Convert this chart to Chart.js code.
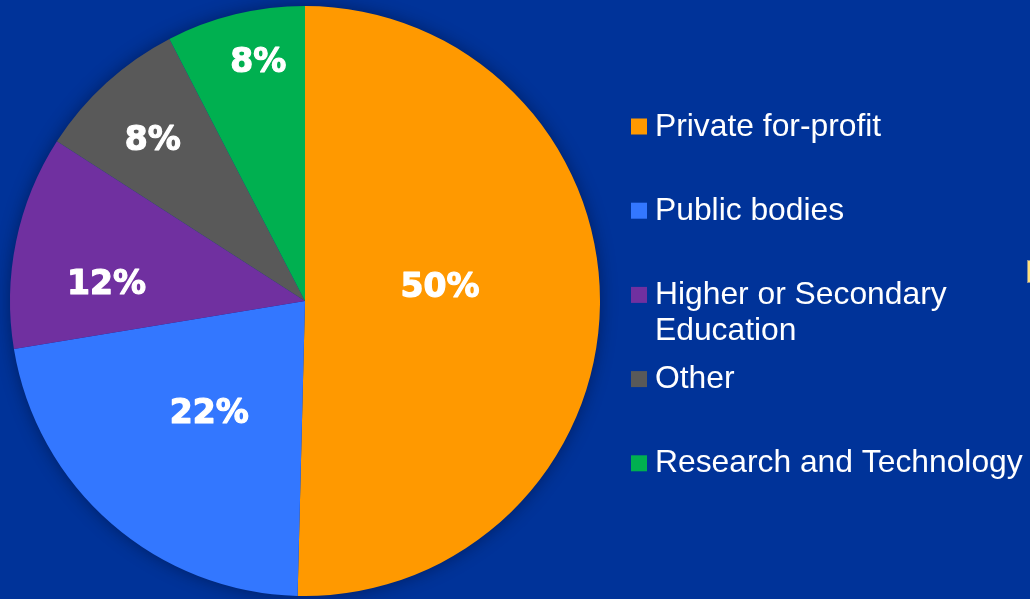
<!DOCTYPE html>
<html>
<head>
<meta charset="utf-8">
<script src="https://cdn.jsdelivr.net/npm/chart.js@4.4.0/dist/chart.umd.min.js"></script>
<style>
  html, body { margin: 0; padding: 0; background: #003399; overflow: hidden; }
  .wrap { position: relative; width: 1030px; height: 599px; }
  #pie { position: absolute; left: 0; top: 0; }
  .tab { position: absolute; left: 1027px; top: 260px; width: 6px; height: 23px;
         background: #ffe07a; border: 1px solid #8a8f9a; box-sizing: border-box; }
</style>
</head>
<body>
<div class="wrap">
  <canvas id="pie" width="1030" height="599"></canvas>
  <div class="tab"></div>
</div>
<script>
// data
const categories = [
  ['Private for-profit'],
  ['Public bodies'],
  ['Higher or Secondary', 'Education'],
  ['Other'],
  ['Research and Technology']
];
const shares = [50.4, 22.0, 11.7, 8.3, 7.6];
const shareLabels = ['50%', '22%', '12%', '8%', '8%'];
const colors = ['#ff9900', '#3377ff', '#7030a0', '#595959', '#00b050'];

// label placement: fraction of radius, angle nudge (deg)
const labelSpots = [[0.46, -6.5], [0.5, -0.6], [0.675, -7], [0.75, -1.2], [0.825, 2.6]];

// shadow under the whole pie
const pieShadow = {
  id: 'pieShadow',
  beforeDatasetsDraw(chart) {
    const arc = chart.getDatasetMeta(0).data[0];
    if (!arc) return;
    const ctx = chart.ctx;
    ctx.save();
    ctx.shadowColor = 'rgba(0, 0, 20, 0.45)';
    ctx.shadowBlur = 18;
    ctx.fillStyle = '#003399';
    ctx.beginPath();
    ctx.arc(arc.x, arc.y, arc.outerRadius - 1, 0, Math.PI * 2);
    ctx.fill();
    ctx.restore();
  }
};

// percent labels inside slices
const sliceLabels = {
  id: 'sliceLabels',
  afterDatasetsDraw(chart) {
    const ctx = chart.ctx;
    ctx.save();
    ctx.font = 'bold 33px "DejaVu Sans"';
    ctx.fillStyle = '#ffffff';
    ctx.strokeStyle = '#ffffff';
    ctx.lineWidth = 1.2;
    ctx.lineJoin = 'round';
    ctx.textAlign = 'center';
    ctx.textBaseline = 'middle';
    chart.getDatasetMeta(0).data.forEach((arc, i) => {
      const spot = labelSpots[i];
      const mid = (arc.startAngle + arc.endAngle) / 2 + spot[1] * Math.PI / 180;
      const r = arc.outerRadius * spot[0];
      const x = arc.x + Math.cos(mid) * r;
      const y = arc.y + Math.sin(mid) * r + 1;
      ctx.strokeText(shareLabels[i], x, y);
      ctx.fillText(shareLabels[i], x, y);
    });
    ctx.restore();
  }
};

// legend on the right, drawn by hand
const sideLegend = {
  id: 'sideLegend',
  afterDraw(chart) {
    const ctx = chart.ctx;
    ctx.save();
    ctx.font = '31.8px "Liberation Sans", Arial, sans-serif';
    ctx.textBaseline = 'alphabetic';
    ctx.textAlign = 'left';
    categories.forEach((lines, i) => {
      const cy = 126.5 + i * 84.2;
      ctx.fillStyle = colors[i];
      ctx.fillRect(631, cy - 8, 16, 16);
      ctx.fillStyle = '#ffffff';
      lines.forEach((t, j) => {
        ctx.fillText(t, 655, cy + 9 + j * 36.5);
      });
    });
    ctx.restore();
  }
};

const config = {
  type: 'pie',
  data: {
    labels: categories.map(c => c.join(' ')),
    datasets: [{
      data: shares,
      backgroundColor: colors,
      borderWidth: 0
    }]
  },
  options: {
    responsive: false,
    animation: false,
    layout: { padding: { left: 10, right: 430, top: 6, bottom: 3 } },
    plugins: {
      legend: { display: false },
      tooltip: { enabled: false }
    }
  },
  plugins: [pieShadow, sliceLabels, sideLegend]
};

const myChart = new Chart(document.getElementById('pie'), config);
</script>
</body>
</html>
